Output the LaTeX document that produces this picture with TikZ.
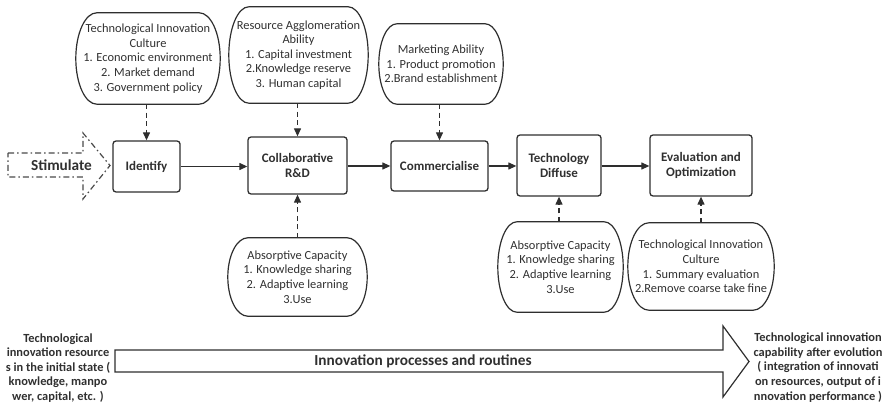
\documentclass[tikz,border=0pt]{standalone}
\usepackage{fontspec}
\setmainfont{Carlito}
\usetikzlibrary{arrows.meta,calc}

\definecolor{inkc}{HTML}{2E2E2E}
\definecolor{txt}{HTML}{303030}
\definecolor{stimc}{HTML}{4A4A4A}

% outline with half-elliptic left and right ends around a named node
\newcommand\softframe[2][20pt]{%
  \draw[outline] let \p1=(#2.north west), \p2=(#2.south east) in
    (\x1+#1,\y1) -- (\x2-#1,\y1)
    arc[start angle=90,end angle=-90,x radius=#1,y radius={(\y1-\y2)/2}]
    -- (\x1+#1,\y2)
    arc[start angle=270,end angle=90,x radius=#1,y radius={(\y1-\y2)/2}]
    -- cycle;}

\tikzset{
  outline/.style={draw=inkc, line width=1.2pt},
  factor/.style={inner sep=0pt, align=center, text=txt,
    font=\fontsize{12.4}{14.6}\selectfont},
  stepbox/.style={draw=inkc, line width=1.3pt, rounded corners=3pt,
    inner sep=0pt, align=center, text=txt,
    font=\bfseries\fontsize{13}{15.5}\selectfont},
  flow/.style={draw=inkc, line width=1.2pt,
    -{Triangle[length=8pt,width=7pt]}},
  influence/.style={flow, dash pattern=on 5pt off 3.5pt},
  sidetext/.style={align=center, inner sep=0pt, text=txt,
    font=\bfseries\fontsize{12.4}{14.6}\selectfont},
  banner/.style={font=\bfseries\fontsize{15.3}{17}\selectfont, text=txt, inner sep=0pt},
}

\begin{document}
\begin{tikzpicture}[x=1pt,y=-1pt]
\useasboundingbox (0,0) rectangle (882,403);

% ---------- influencing factors above ----------
\node[factor, minimum width=144pt, minimum height=91pt] (cultA) at (148,58.5)
  {Technological Innovation\\Culture\\1. Economic environment\\2. Market demand\\3. Government policy};
\node[factor, minimum width=139pt, minimum height=96pt] (res) at (298.5,55)
  {Resource Agglomeration\\Ability\\1. Capital investment\\2.Knowledge reserve\\3. Human capital};
\node[factor, minimum width=124pt, minimum height=80pt] (mkt) at (441,64)
  {Marketing Ability\\1. Product promotion\\2.Brand establishment};

% ---------- process steps ----------
\node[stepbox, minimum width=67pt, minimum height=51pt] (ident) at (146.5,166.5) {Identify};
\node[stepbox, minimum width=99pt, minimum height=57pt] (collab) at (297.5,165.5) {Collaborative\\R\&D};
\node[stepbox, minimum width=97pt, minimum height=50pt] (comm) at (439.5,166) {Commercialise};
\node[stepbox, minimum width=84pt, minimum height=61pt] (diff) at (559,165.5) {Technology\\Diffuse};
\node[stepbox, minimum width=102pt, minimum height=61pt] (eval) at (701,165.5) {Evaluation and\\Optimization};

% ---------- influencing factors below ----------
\node[factor, minimum width=139pt, minimum height=78pt] (absA) at (297.5,277)
  {Absorptive Capacity\\1. Knowledge sharing\\2. Adaptive learning\\3.Use};
\node[factor, minimum width=125pt, minimum height=90pt] (absB) at (560.5,267)
  {Absorptive Capacity\\1. Knowledge sharing\\2. Adaptive learning\\3.Use};
\node[factor, minimum width=146pt, minimum height=87pt] (cultB) at (701,266.5)
  {Technological Innovation\\Culture\\1. Summary evaluation\\2.Remove coarse take fine};

\softframe[21pt]{cultA}
\softframe[20pt]{res}
\softframe[18pt]{mkt}
\softframe[20pt]{absA}
\softframe[19pt]{absB}
\softframe[21pt]{cultB}

% ---------- stimulus ----------
\node[banner] (stim) at (61.5,165) {Stimulate};
\draw[draw=stimc, line width=1.2pt, dash pattern=on 6pt off 3pt on 1.5pt off 3pt]
  (8,153) -- (83,153) -- (83,133) -- (110,165.5) -- (83,199) -- (83,177) -- (8,177) -- cycle;

% ---------- main flow ----------
\draw[flow] (ident.east) -- (ident.east -| collab.west);
\draw[flow] (collab.east |- comm.west) -- (comm.west);
\draw[flow] (comm.east) -- (comm.east -| diff.west);
\draw[flow] (diff.east |- comm.east) -- (comm.east -| eval.west);

% ---------- influences ----------
\draw[influence] (cultA.south -| ident.north) -- (ident.north);
\draw[influence] (res.south -| collab.north) -- (collab.north);
\draw[influence] (mkt.south -| comm.north) -- (comm.north);
\draw[influence] (absA.north -| collab.south) -- (collab.south);
\draw[influence] (absB.north -| diff.south) -- (diff.south);
\draw[influence] (cultB.north -| eval.south) -- (eval.south);

% ---------- evolution arrow ----------
\node[sidetext] (start) at (58,368)
  {Technological\\innovation resource\\s in the initial state (\\knowledge, manpo\\wer, capital, etc. )};
\node[sidetext] (finish) at (818,367.5)
  {Technological innovation\\capability after evolution\\( integration of innovati\\on resources, output of i\\nnovation performance )};
\node[banner] (proc) at (423,361) {Innovation processes and routines};
\draw[outline] (115,350) -- (723,350) -- (723,326) -- (749,361.5) -- (723,397) -- (723,372) -- (115,372) -- cycle;
\end{tikzpicture}
\end{document}
